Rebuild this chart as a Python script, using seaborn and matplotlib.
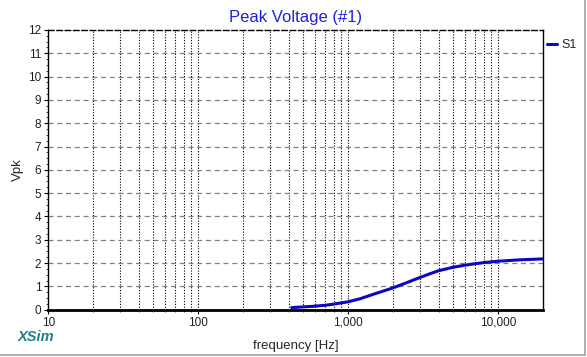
import numpy as np
import pandas as pd
import matplotlib
matplotlib.use("Agg")
import matplotlib.pyplot as plt
import seaborn as sns
from matplotlib.ticker import FixedLocator, FuncFormatter, MultipleLocator, NullFormatter
from matplotlib.lines import Line2D

# values
freq_hz = [420, 500, 600, 700, 800, 1000, 1200, 1500, 2000, 2500, 3000, 3500,
           4000, 5000, 6000, 7000, 8000, 10000, 14000, 20000]
vpk = [0.09, 0.12, 0.15, 0.19, 0.24, 0.34, 0.47, 0.68, 0.94, 1.18, 1.38, 1.54,
       1.67, 1.82, 1.91, 1.97, 2.02, 2.08, 2.14, 2.18]
series_name = "S1"
x_ticks = [10, 100, 1000, 10000]
y_ticks = list(range(0, 13))

df = pd.DataFrame({"frequency": freq_hz, "Vpk": vpk, "series": series_name})

sns.set_style("white")
plt.rcParams["font.family"] = ["Liberation Sans", "DejaVu Sans"]

fig = plt.figure(figsize=(5.87, 3.57), dpi=100)
ax = fig.add_axes([0.0823, 0.1325, 0.8433, 0.7835])

sns.lineplot(data=df, x="frequency", y="Vpk", hue="series", palette=["#0808c4"],
             linewidth=2.2, ax=ax)

ax.set_xscale("log")
ax.set_xlim(10, 20000)
ax.set_ylim(0, 12)

# grid: dotted black verticals, dashed gray horizontals
minor_x = [m * 10 ** d for d in range(1, 4) for m in range(2, 10)]
for xv in minor_x + x_ticks[1:]:
    ax.axvline(xv, color="black", linestyle=(0, (1, 1.5)), linewidth=0.8, zorder=0)
for yv in y_ticks[1:-1]:
    ax.axhline(yv, color="#808080", linestyle=(0, (4, 3)), linewidth=0.9, zorder=0)

ax.xaxis.set_major_locator(FixedLocator(x_ticks))
ax.xaxis.set_major_formatter(FuncFormatter(lambda v, p: f"{int(v):,}"))
ax.xaxis.set_minor_locator(FixedLocator(minor_x))
ax.xaxis.set_minor_formatter(NullFormatter())
ax.yaxis.set_major_locator(FixedLocator(y_ticks))
ax.yaxis.set_minor_locator(MultipleLocator(0.25))
ax.tick_params(axis="both", which="major", direction="out", length=3, width=0.8,
               labelsize=8.5, colors="black", labelcolor="#202020", pad=2,
               bottom=True, left=True)
ax.tick_params(axis="both", which="minor", direction="out", length=1.5, width=0.6,
               bottom=True, left=True)

for side in ["left", "right"]:
    ax.spines[side].set_color("black")
    ax.spines[side].set_linewidth(1)
ax.spines["bottom"].set_color("black")
ax.spines["bottom"].set_linewidth(2)
ax.spines["top"].set_color("black")
ax.spines["top"].set_linestyle((0, (4, 2)))
ax.spines["top"].set_linewidth(1)

ax.set_title("Peak Voltage (#1)", color="#2020e0", fontsize=12, pad=6)
ax.set_xlabel("frequency [Hz]", fontsize=9.5, labelpad=8)
ax.set_ylabel("Vpk", fontsize=9.5, labelpad=3)

ax.legend(loc="upper left", bbox_to_anchor=(0.998, 0.985), frameon=False,
          handlelength=0.8, handletextpad=0.35, borderaxespad=0, fontsize=9)

fig.text(0.03, 0.045, "XSim", color="#1f7f8f", fontsize=10.5, fontweight="bold",
         fontstyle="italic")

# light gray frame on the right and bottom of the picture
fig.add_artist(Line2D([0, 0.997], [0.006, 0.006], color="#a0a0a0", linewidth=1.2,
                      transform=fig.transFigure))
fig.add_artist(Line2D([0.997, 0.997], [0.006, 1], color="#a0a0a0", linewidth=1.2,
                      transform=fig.transFigure))

fig.savefig("out.png", dpi=100, facecolor="white")
